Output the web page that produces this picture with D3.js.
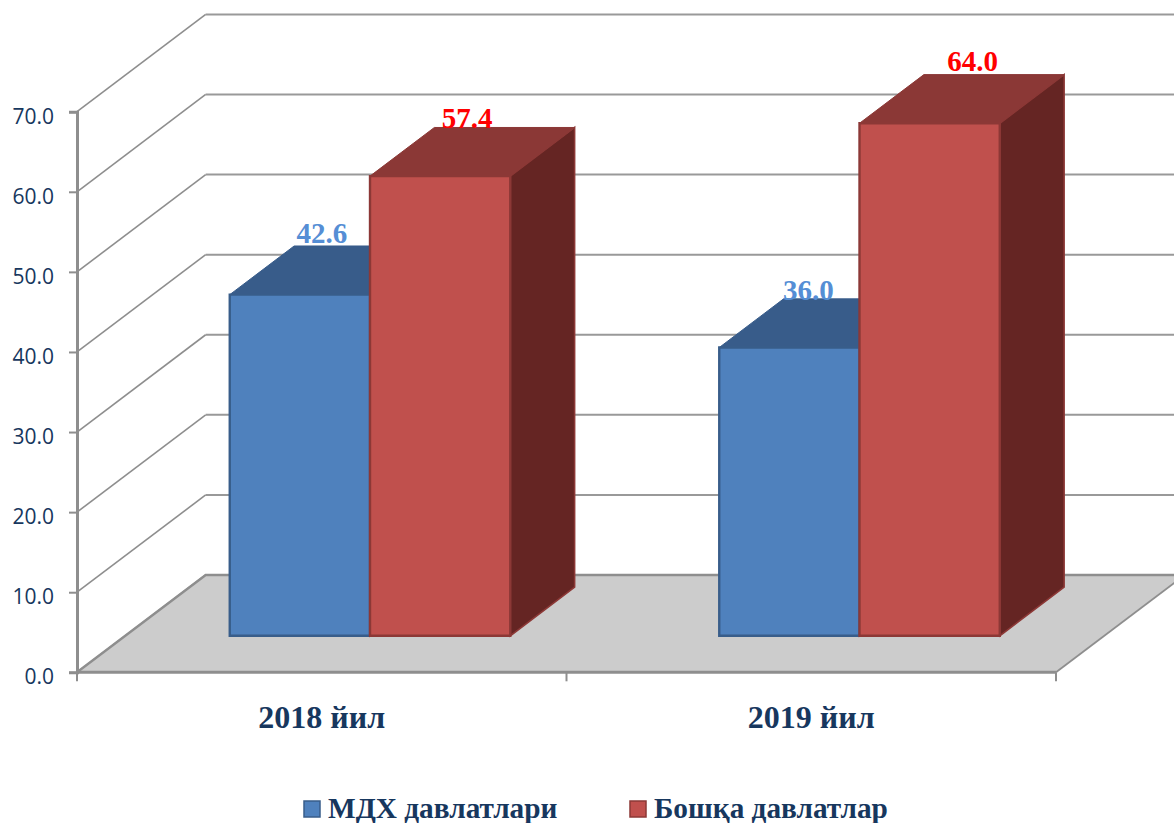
<!DOCTYPE html>
<html>
<head>
<meta charset="utf-8">
<script src="https://cdn.jsdelivr.net/npm/d3@7"></script>
<style>
  html, body { margin: 0; padding: 0; background: #fff; }
  svg { display: block; }
</style>
</head>
<body>
<svg width="1174" height="823"></svg>
<script>
// chart values
const categories = ["2018 йил", "2019 йил"];
const seriesNames = ["МДХ давлатлари", "Бошқа давлатлар"];
const cisValues = [42.6, 36.0];
const otherValues = [57.4, 64.0];
const yTicks = [0, 10, 20, 30, 40, 50, 60, 70];

const faceColors = ["#4F81BD", "#C0504D"];
const edgeColors = ["#385D8A", "#8C3836"];
const topColors = ["#385C8A", "#8B3836"];
const sideColors = ["#2A4669", "#652523"];
const labelColors = ["#558ED5", "#FF0000"];
const inkColor = "#17375E";
const gridColor = "#8E8E8E";
const serif = "'Liberation Serif', serif";

const svg = d3.select("svg");

// 3d box of the plot: how far the back wall is shifted from the front
const depthX = 128.7;
const depthY = 97.3;
const barFront = 0.375; // bars start at this part of the floor depth
const barBack = 0.875;  // and end here

const x = d3.scaleBand().domain(categories).range([77, 1056]);
const y = d3.scaleLinear().domain([0, 70]).range([672.3, 111.7]);
const xInner = d3.scaleBand().domain(seriesNames).range([0, x.bandwidth()]).paddingInner(0).paddingOuter(0.745);

// screen position of a point given category-axis x, value and depth 0..1
function project(px, value, depth) {
  return [px + depth * depthX, y(value) - depth * depthY];
}
function poly(points) {
  return points.map(p => p.join(",")).join(" ");
}

// gridlines: diagonal on the side wall, flat on the back wall
yTicks.forEach(t => {
  svg.append("line")
    .attr("x1", 77).attr("y1", y(t))
    .attr("x2", project(77, t, 1)[0]).attr("y2", project(77, t, 1)[1])
    .attr("stroke", gridColor).attr("stroke-width", 1.6);
  svg.append("line")
    .attr("x1", project(77, t, 1)[0]).attr("y1", project(77, t, 1)[1])
    .attr("x2", project(1056, t, 1)[0]).attr("y2", project(1056, t, 1)[1])
    .attr("stroke", "#999999").attr("stroke-width", 2);
});

// floor
svg.append("polygon")
  .attr("points", poly([project(77, 0, 0), project(77, 0, 1), project(1056, 0, 1), project(1056, 0, 0)]))
  .attr("fill", "#CCCCCC");
svg.append("polyline")
  .attr("points", poly([project(77, 0, 0), project(77, 0, 1), project(1056, 0, 1)]))
  .attr("fill", "none").attr("stroke", gridColor).attr("stroke-width", 2.4);
svg.append("line")
  .attr("x1", x.range()[1]).attr("y1", y(0))
  .attr("x2", project(1056, 0, 1)[0]).attr("y2", project(1056, 0, 1)[1])
  .attr("stroke", gridColor).attr("stroke-width", 1.8);

// value axis
const yAxis = svg.append("g")
  .attr("transform", "translate(77,0)")
  .call(d3.axisLeft(y).tickValues(yTicks).tickFormat(d3.format(".1f")).tickSize(8).tickPadding(15));
yAxis.select(".domain").attr("stroke", gridColor).attr("stroke-width", 3);
yAxis.selectAll(".tick line").attr("stroke", gridColor).attr("stroke-width", 2);
yAxis.selectAll("text")
  .attr("dy", "0.62em")
  .attr("y", -1.5)
  .attr("fill", inkColor)
  .style("font-family", "'Open Sans', sans-serif")
  .style("font-size", "21px");

// category axis, ticks sit between the categories
const xAxis = svg.append("g")
  .attr("transform", `translate(0,${y(0)})`)
  .call(d3.axisBottom(x).tickSize(0).tickPadding(33));
xAxis.select(".domain").remove();
svg.append("line")
  .attr("x1", 77).attr("x2", 1056).attr("y1", y(0)).attr("y2", y(0))
  .attr("stroke", gridColor).attr("stroke-width", 3);
[...categories.map(c => x(c)), x.range()[1]].forEach(px => {
  svg.append("line")
    .attr("x1", px).attr("x2", px).attr("y1", y(0)).attr("y2", y(0) + 9)
    .attr("stroke", gridColor).attr("stroke-width", 2);
});
xAxis.selectAll("text")
  .attr("fill", inkColor)
  .style("font-family", serif)
  .style("font-weight", "bold")
  .style("font-size", "32px");

// bars
const seriesValues = [cisValues, otherValues];
// data labels were moved by hand in the original, so each has its own shift
const labelShiftX = [[22, 19], [27, 43]];
const labelShiftY = [[-52, -48], [-48, -52]];

categories.forEach((cat, c) => {
  seriesNames.forEach((name, s) => {
    const v = seriesValues[s][c];
    const left = x(cat) + xInner(name);
    const right = left + xInner.bandwidth();

    const fbl = project(left, 0, barFront), fbr = project(right, 0, barFront);
    const ftl = project(left, v, barFront), ftr = project(right, v, barFront);
    const btl = project(left, v, barBack), btr = project(right, v, barBack);
    const bbr = project(right, 0, barBack);

    // side
    svg.append("polygon")
      .attr("points", poly([fbr, ftr, btr, bbr]))
      .attr("fill", sideColors[s]).attr("stroke", edgeColors[s]).attr("stroke-width", 1.6);
    // top
    svg.append("polygon")
      .attr("points", poly([ftl, btl, btr, ftr]))
      .attr("fill", topColors[s]).attr("stroke", topColors[s]).attr("stroke-width", 1);
    // front
    svg.append("polygon")
      .attr("points", poly([fbl, ftl, ftr, fbr]))
      .attr("fill", faceColors[s]).attr("stroke", edgeColors[s]).attr("stroke-width", 2.4);
  });
});

// data labels go on top of every bar
categories.forEach((cat, c) => {
  seriesNames.forEach((name, s) => {
    const v = seriesValues[s][c];
    const left = x(cat) + xInner(name);
    const top = project(left + xInner.bandwidth() / 2, v, barFront);
    svg.append("text")
      .attr("x", top[0] + labelShiftX[s][c])
      .attr("y", top[1] + labelShiftY[s][c])
      .attr("text-anchor", "middle")
      .attr("fill", labelColors[s])
      .style("font-family", serif)
      .style("font-weight", "bold")
      .style("font-size", "29px")
      .text(d3.format(".1f")(v));
  });
});

// legend
const legendX = [304, 630];
seriesNames.forEach((name, s) => {
  svg.append("rect")
    .attr("x", legendX[s]).attr("y", 801)
    .attr("width", 16).attr("height", 16)
    .attr("fill", faceColors[s]).attr("stroke", edgeColors[s]).attr("stroke-width", 1.5);
  svg.append("text")
    .attr("x", legendX[s] + 24).attr("y", 818)
    .attr("fill", inkColor)
    .style("font-family", serif)
    .style("font-weight", "bold")
    .style("font-size", "29.3px")
    .text(name);
});
</script>
</body>
</html>
